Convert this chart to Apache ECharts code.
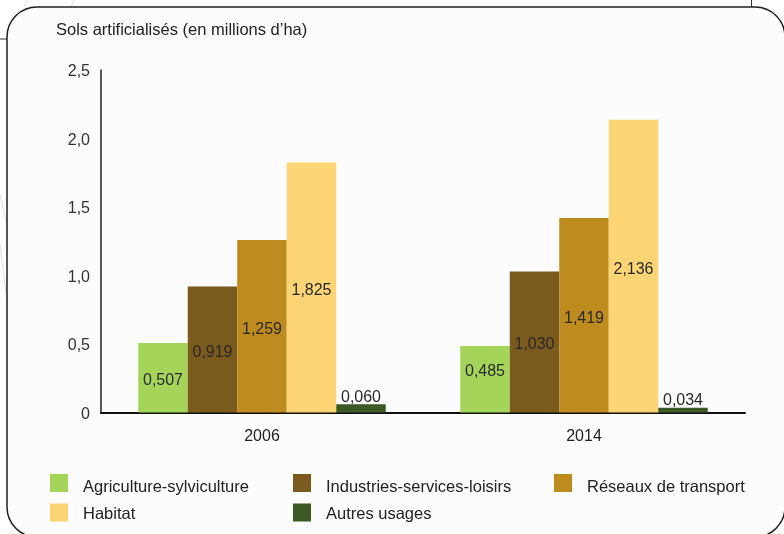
<!DOCTYPE html>
<html>
<head>
<meta charset="utf-8">
<script src="https://cdn.jsdelivr.net/npm/echarts@6/dist/echarts.min.js"></script>
<style>
html,body{margin:0;padding:0;background:#ffffff;}
#c{width:784px;height:534px;}
</style>
</head>
<body>
<div id="c"></div>
<script>
const categories = ['2006', '2014'];
const seriesNames = ['Agriculture-sylviculture', 'Industries-services-loisirs', 'Réseaux de transport', 'Habitat', 'Autres usages'];
const agriculture = [0.507, 0.485];
const industries = [0.919, 1.030];
const reseaux = [1.259, 1.419];
const habitat = [1.825, 2.136];
const autres = [0.060, 0.034];
const yTicks = [0, 0.5, 1.0, 1.5, 2.0, 2.5];
const titleText = 'Sols artificialisés (en millions d’ha)';

const values = [agriculture, industries, reseaux, habitat, autres];
const colors = ['#a4d55a', '#7a5a1d', '#be8b1f', '#fdd575', '#3c5a25'];
const FONT = '"Liberation Sans", Arial, Helvetica, sans-serif';
const fmt = v => v.toFixed(3).replace('.', ',');

const chart = echarts.init(document.getElementById('c'), null, {renderer: 'canvas'});

const series = values.map((arr, si) => ({
  name: seriesNames[si],
  type: 'bar',
  barWidth: 49.5,
  barGap: '0%',
  itemStyle: {color: colors[si]},
  label: {
    show: true,
    position: si === 4 ? 'top' : 'inside',
    distance: si === 4 ? 1 : 5,
    offset: si === 4 ? [0, 2] : [0, 3],
    color: '#2a2a2a',
    fontFamily: FONT,
    fontSize: 16,
    formatter: p => fmt(p.value)
  },
  data: arr.map((v, ci) => {
    const d = {value: v};
    if (si === 0 && ci === 1) d.label = {offset: [0, -8]};
    return d;
  })
}));

function legendAt(name, left, top, padTop) {
  return {
    data: [name],
    left: left, top: top, padding: 0,
    itemWidth: 18, itemHeight: 18,
    icon: 'rect',
    selectedMode: false,
    formatter: '{t|{name}}',
    textStyle: {
      color: '#222', fontSize: 16.5, fontFamily: FONT,
      rich: {t: {color: '#222', fontSize: 16.5, fontFamily: FONT, padding: [padTop, 0, 0, 10]}}
    }
  };
}

const option = {
  backgroundColor: '#ffffff',
  animation: false,
  textStyle: {fontFamily: FONT},
  graphic: [
    {type: 'line', shape: {x1: 0, y1: 39, x2: 7, y2: 39}, style: {stroke: '#333', lineWidth: 1}, z: -5},
    {type: 'line', shape: {x1: 751.5, y1: 0, x2: 751.5, y2: 7}, style: {stroke: '#333', lineWidth: 1}, z: -5},
    {type: 'line', shape: {x1: 24, y1: 7, x2: 27, y2: 0}, style: {stroke: '#dddddd', lineWidth: 1}, z: -5},
    {type: 'line', shape: {x1: 71, y1: 7, x2: 74, y2: 0}, style: {stroke: '#dddddd', lineWidth: 1}, z: -5},
    {type: 'line', shape: {x1: 0, y1: 195, x2: 7, y2: 225}, style: {stroke: '#dddddd', lineWidth: 1}, z: -5},
    {type: 'line', shape: {x1: 0, y1: 245, x2: 7, y2: 300}, style: {stroke: '#dddddd', lineWidth: 1}, z: -5},
    {type: 'rect', shape: {x: 7, y: 7, width: 778, height: 530, r: 30},
      style: {fill: '#fcfcfc', stroke: '#1e1e1e', lineWidth: 1.5}, z: -4},
    {type: 'text', left: 56, top: 22, z: 10,
      style: {text: titleText, fill: '#222', fontSize: 16.5, fontFamily: FONT}}
  ],
  grid: {left: 101, right: 39, top: 70, bottom: 121.5, containLabel: false},
  xAxis: {
    type: 'category',
    data: categories,
    axisLine: {lineStyle: {color: '#111', width: 2}},
    axisTick: {show: false},
    axisLabel: {color: '#222', fontSize: 16, fontFamily: FONT, margin: 16}
  },
  yAxis: {
    type: 'value',
    min: yTicks[0], max: yTicks[yTicks.length - 1], interval: 0.5,
    axisLine: {show: true, lineStyle: {color: '#222', width: 1.5}},
    axisTick: {show: false},
    splitLine: {show: false},
    axisLabel: {color: '#333', fontSize: 16, fontFamily: FONT, margin: 11,
      formatter: v => '{t|' + (v === 0 ? '0' : v.toFixed(1).replace('.', ',')) + '}',
      rich: {t: {color: '#333', fontSize: 16, fontFamily: FONT, padding: [4, 0, 0, 0]}}}
  },
  legend: [
    legendAt(seriesNames[0], 50, 474, 9),
    legendAt(seriesNames[1], 293, 474, 9),
    legendAt(seriesNames[2], 554, 474, 9),
    legendAt(seriesNames[3], 50, 503.5, 3),
    legendAt(seriesNames[4], 293, 503.5, 3)
  ],
  series: series
};
chart.setOption(option);
</script>
</body>
</html>
